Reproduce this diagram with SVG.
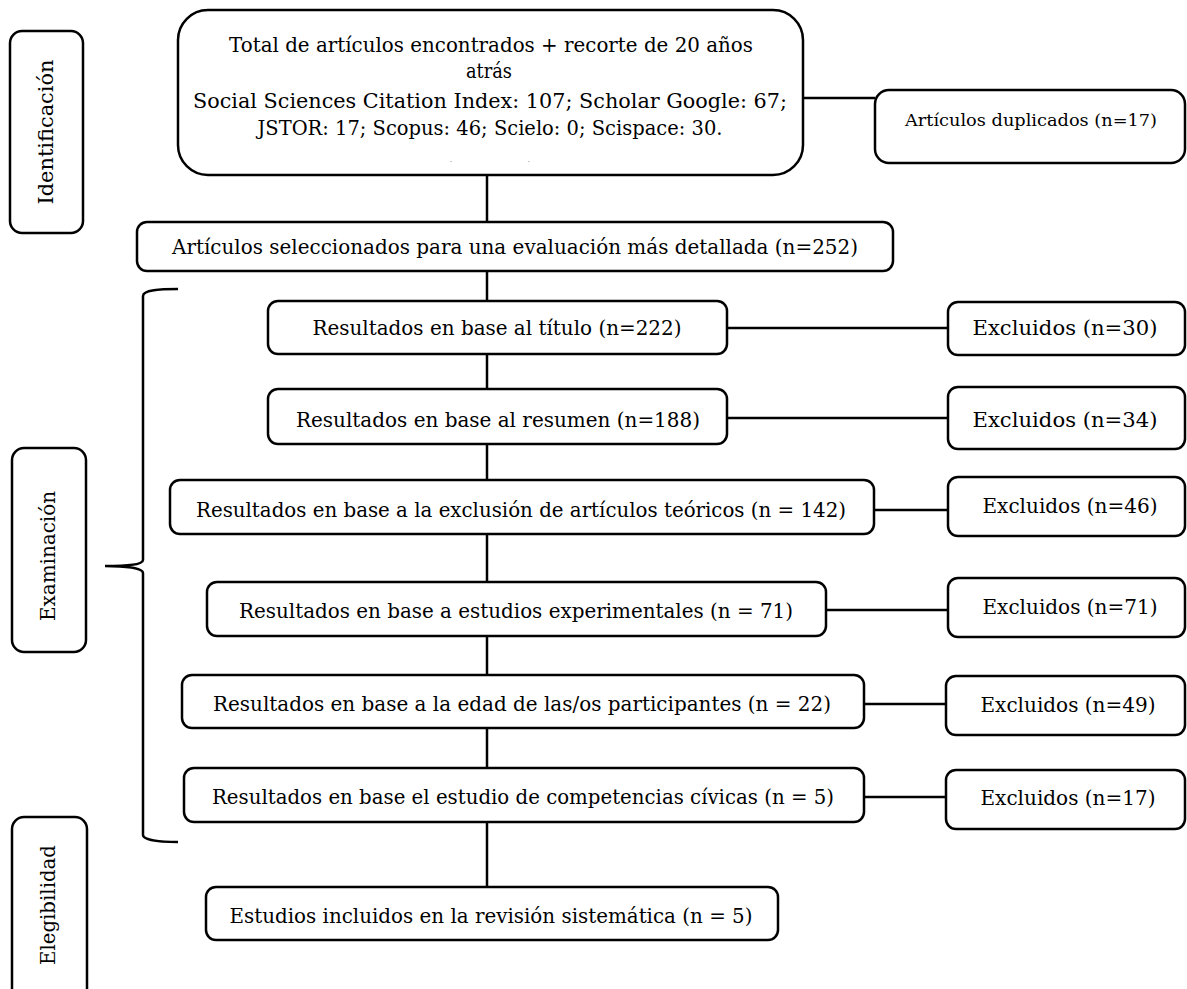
<svg xmlns="http://www.w3.org/2000/svg" width="1187" height="989" viewBox="0 0 1187 989">
<style>
.box{fill:#fff;stroke:#000;stroke-width:2.5}
.ln{fill:none;stroke:#000;stroke-width:2.5}
.t{font-family:"DejaVu Serif","Liberation Serif",serif;font-size:20px;fill:#000;text-anchor:middle}
.s{font-size:16px}
</style>
<defs>
<clipPath id="topclip"><rect x="178" y="10" width="625" height="152"/></clipPath>
</defs>
<g id="connectors">
<line class="ln" x1="487" y1="175" x2="487" y2="222"/>
<line class="ln" x1="803" y1="98" x2="875" y2="98"/>
<line class="ln" x1="487" y1="271" x2="487" y2="301"/>
<line class="ln" x1="487" y1="354" x2="487" y2="389"/>
<line class="ln" x1="727" y1="328" x2="948" y2="328"/>
<line class="ln" x1="487" y1="444" x2="487" y2="480"/>
<line class="ln" x1="727" y1="418" x2="948" y2="418"/>
<line class="ln" x1="487" y1="534" x2="487" y2="582"/>
<line class="ln" x1="874" y1="510" x2="948" y2="510"/>
<line class="ln" x1="487" y1="636" x2="487" y2="675"/>
<line class="ln" x1="826" y1="610" x2="948" y2="610"/>
<line class="ln" x1="487" y1="728" x2="487" y2="768"/>
<line class="ln" x1="864" y1="704" x2="946" y2="704"/>
<line class="ln" x1="487" y1="822" x2="487" y2="887"/>
<line class="ln" x1="864" y1="797" x2="946" y2="797"/>
</g>
<g id="brace">
<path class="ln" d="M178,289 C160,289 143,290 143,296 L143,560 C143,565 125,566 105,566 C125,566 143,568 143,573 L143,835 C143,840 160,842 178,842"/>
</g>
<g id="identificacion">
<rect class="box" x="10" y="31" width="73" height="202" rx="12"/>
<text class="t" transform="translate(53,132) rotate(-90)" textLength="145" lengthAdjust="spacingAndGlyphs">Identificación</text>
</g>
<g id="examinacion">
<rect class="box" x="12" y="448" width="74" height="204" rx="12"/>
<text class="t" transform="translate(55,556) rotate(-90)" textLength="130" lengthAdjust="spacingAndGlyphs">Examinación</text>
</g>
<g id="elegibilidad">
<rect class="box" x="12" y="817" width="75" height="190" rx="12"/>
<text class="t" transform="translate(55,905) rotate(-90)" textLength="120" lengthAdjust="spacingAndGlyphs">Elegibilidad</text>
</g>
<g id="total">
<rect class="box" x="178" y="10" width="625" height="165" rx="30"/>
<text class="t" x="491" y="52" textLength="524" lengthAdjust="spacingAndGlyphs">Total de artículos encontrados + recorte de 20 años</text>
<text class="t" x="489" y="78" textLength="46" lengthAdjust="spacingAndGlyphs">atrás</text>
<text class="t" x="490" y="108" textLength="594" lengthAdjust="spacingAndGlyphs">Social Sciences Citation Index: 107; Scholar Google: 67;</text>
<text class="t" x="490" y="135" textLength="465" lengthAdjust="spacingAndGlyphs">JSTOR: 17; Scopus: 46; Scielo: 0; Scispace: 30.</text>
<text class="t" x="490" y="177" clip-path="url(#topclip)">(n= 252)</text>
</g>
<g id="duplicados">
<rect class="box" x="875" y="90" width="310" height="73" rx="14"/>
<text class="t s" x="1031" y="126" textLength="252" lengthAdjust="spacingAndGlyphs">Artículos duplicados (n=17)</text>
</g>
<g id="seleccionados">
<rect class="box" x="137" y="222" width="756" height="49" rx="10"/>
<text class="t" x="515" y="254" textLength="686" lengthAdjust="spacingAndGlyphs">Artículos seleccionados para una evaluación más detallada (n=252)</text>
</g>
<g id="titulo">
<rect class="box" x="268" y="301" width="459" height="53" rx="10"/>
<text class="t" x="497" y="335" textLength="369" lengthAdjust="spacingAndGlyphs">Resultados en base al título (n=222)</text>
</g>
<g id="excl30">
<rect class="box" x="948" y="302" width="237" height="53" rx="10"/>
<text class="t" x="1065" y="335" textLength="185" lengthAdjust="spacingAndGlyphs">Excluidos (n=30)</text>
</g>
<g id="resumen">
<rect class="box" x="268" y="389" width="459" height="55" rx="10"/>
<text class="t" x="498" y="427" textLength="404" lengthAdjust="spacingAndGlyphs">Resultados en base al resumen (n=188)</text>
</g>
<g id="excl34">
<rect class="box" x="948" y="387" width="237" height="62" rx="10"/>
<text class="t" x="1065" y="427" textLength="185" lengthAdjust="spacingAndGlyphs">Excluidos (n=34)</text>
</g>
<g id="teoricos">
<rect class="box" x="170" y="480" width="704" height="54" rx="10"/>
<text class="t" x="521" y="517" textLength="650" lengthAdjust="spacingAndGlyphs">Resultados en base a la exclusión de artículos teóricos (n = 142)</text>
</g>
<g id="excl46">
<rect class="box" x="948" y="477" width="237" height="59" rx="10"/>
<text class="t" x="1070" y="513" textLength="175" lengthAdjust="spacingAndGlyphs">Excluidos (n=46)</text>
</g>
<g id="experimentales">
<rect class="box" x="207" y="582" width="619" height="54" rx="10"/>
<text class="t" x="516" y="618" textLength="554" lengthAdjust="spacingAndGlyphs">Resultados en base a estudios experimentales (n = 71)</text>
</g>
<g id="excl71">
<rect class="box" x="948" y="578" width="237" height="59" rx="10"/>
<text class="t" x="1070" y="614" textLength="175" lengthAdjust="spacingAndGlyphs">Excluidos (n=71)</text>
</g>
<g id="edad">
<rect class="box" x="182" y="675" width="682" height="53" rx="10"/>
<text class="t" x="522" y="711" textLength="618" lengthAdjust="spacingAndGlyphs">Resultados en base a la edad de las/os participantes (n = 22)</text>
</g>
<g id="excl49">
<rect class="box" x="946" y="676" width="239" height="59" rx="10"/>
<text class="t" x="1068" y="712" textLength="175" lengthAdjust="spacingAndGlyphs">Excluidos (n=49)</text>
</g>
<g id="civicas">
<rect class="box" x="184" y="768" width="680" height="54" rx="10"/>
<text class="t" x="523" y="804" textLength="622" lengthAdjust="spacingAndGlyphs">Resultados en base el estudio de competencias cívicas (n = 5)</text>
</g>
<g id="excl17">
<rect class="box" x="946" y="770" width="239" height="59" rx="10"/>
<text class="t" x="1068" y="805" textLength="175" lengthAdjust="spacingAndGlyphs">Excluidos (n=17)</text>
</g>
<g id="incluidos">
<rect class="box" x="206" y="887" width="572" height="53" rx="10"/>
<text class="t" x="491" y="923" textLength="523" lengthAdjust="spacingAndGlyphs">Estudios incluidos en la revisión sistemática (n = 5)</text>
</g>
</svg>
